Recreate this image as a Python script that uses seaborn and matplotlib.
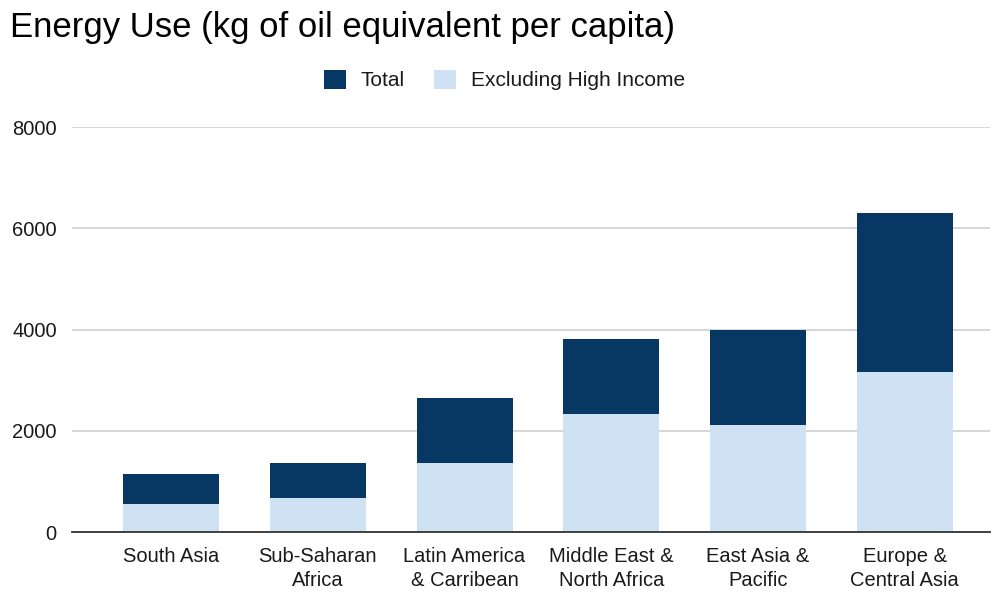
import matplotlib
matplotlib.use("Agg")
import matplotlib.pyplot as plt
import seaborn as sns
import pandas as pd
from matplotlib.patches import Patch

categories = ["South Asia", "Sub-Saharan\nAfrica", "Latin America\n& Carribean",
              "Middle East &\nNorth Africa", "East Asia &\nPacific", "Europe &\nCentral Asia"]
total = [1150, 1360, 2650, 3820, 4000, 6300]
excluding_high_income = [560, 665, 1365, 2325, 2115, 3155]
yticks = [0, 2000, 4000, 6000, 8000]

DARK = "#073763"
LIGHT = "#cfe2f3"

sns.set_theme(style="white")
plt.rcParams["font.family"] = ["Liberation Sans", "DejaVu Sans"]

df = pd.DataFrame({"category": categories, "total": total, "excl": excluding_high_income})

fig = plt.figure(figsize=(9.92, 5.92), dpi=100)
ax = fig.add_axes([72/992, 1-532/592, (990-72)/992, (532-127)/592])

sns.barplot(data=df, x="category", y="total", color=DARK, width=0.654, saturation=1,
            ax=ax, zorder=3, linewidth=0)
sns.barplot(data=df, x="category", y="excl", color=LIGHT, width=0.654, saturation=1,
            ax=ax, zorder=4, linewidth=0)

ax.set_ylim(0, 8000)
ax.set_xlim(-0.674, 5.58)
ax.set_yticks(yticks)
ax.set_yticklabels([str(v) for v in yticks])
ax.set_xlabel("")
ax.set_ylabel("")
ax.yaxis.grid(True, color="#cccccc", linewidth=1.1, zorder=0)
ax.set_axisbelow(True)
for s in ["top", "right", "left"]:
    ax.spines[s].set_visible(False)
ax.spines["bottom"].set_color("#333333")
ax.spines["bottom"].set_linewidth(1.3)
ax.spines["bottom"].set_zorder(6)
ax.tick_params(axis="y", length=0, pad=11, labelsize=14.5, labelcolor="#1a1a1a")
ax.tick_params(axis="x", length=0, pad=10.5, labelsize=14.5, labelcolor="#1a1a1a")
for lab in ax.get_xticklabels():
    lab.set_linespacing(1.38)
    lab.set_horizontalalignment("center")

fig.text(10/992, 1-27/592, "Energy Use (kg of oil equivalent per capita)",
         fontsize=25, va="center", ha="left", color="#000000")

handles = [Patch(facecolor=DARK, edgecolor="none", label="Total"),
           Patch(facecolor=LIGHT, edgecolor="none", label="Excluding High Income")]
fig.legend(handles=handles, loc="center", bbox_to_anchor=(504.5/992, 1-80/592),
           ncol=2, frameon=False, fontsize=15, handlelength=1.03, handleheight=1.03,
           handletextpad=0.72, columnspacing=1.4, labelcolor="#1a1a1a")

fig.savefig("out.png", dpi=100)
